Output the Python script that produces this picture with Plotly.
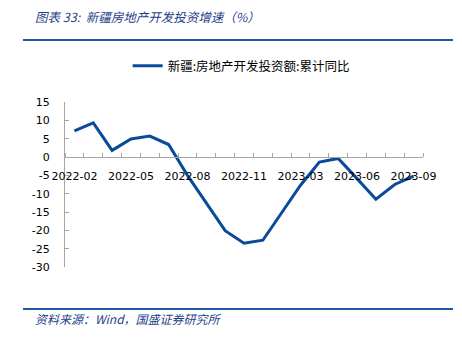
import plotly.graph_objects as go

months = ["2022-02", "2022-03", "2022-04", "2022-05", "2022-06", "2022-07", "2022-08",
          "2022-09", "2022-10", "2022-11", "2022-12", "2023-02", "2023-03", "2023-04",
          "2023-05", "2023-06", "2023-07", "2023-08", "2023-09"]
values = [7.1, 9.3, 1.8, 4.9, 5.7, 3.4, -5.0, -12.6, -20.1, -23.5, -22.7, -15.2, -7.7,
          -1.4, -0.4, -5.9, -11.5, -7.5, -5.2]
y_ticks = [15, 10, 5, 0, -5, -10, -15, -20, -25, -30]
series_name = "新疆:房地产开发投资额:累计同比"
title_text = "图表 33:  新疆房地产开发投资增速（%）"
source_text = "资料来源：Wind，国盛证券研究所"
y_range = [-30, 15]

xs = list(range(len(months)))
label_idx = xs[::3]

# page body has an 8px default margin; target pixel positions are compensated
OFF = 8
W, H = 462, 358
PL, PR, PT, PB = 65 - OFF, 423 - OFF, 102 - OFF, 267 - OFF  # plot area in figure px
PW, PH = PR - PL, PB - PT


def px_x(x):
    return (x - OFF - PL) / PW


def px_y(y):
    return (PB - (y - OFF)) / PH


fig = go.Figure()
fig.add_trace(go.Scatter(x=xs, y=values, mode="lines", name=series_name,
                         line=dict(color="#0B4A9B", width=3)))

axis_grey = "#A6A6A6"
fig.update_layout(
    width=W, height=H,
    margin=dict(l=PL, r=W - PR, t=PT, b=H - PB, autoexpand=False),
    paper_bgcolor="white", plot_bgcolor="white",
    font=dict(family="DejaVu Sans", size=11, color="#000000"),
    showlegend=True,
    legend=dict(orientation="h", x=px_x(133) - 0.015, xanchor="left", y=px_y(66),
                yanchor="middle",
                font=dict(family="Noto Sans CJK SC", size=12.5, color="#000000"),
                itemwidth=30, bgcolor="rgba(0,0,0,0)"),
    xaxis=dict(range=[-0.5, len(months) - 0.5], tickvals=label_idx,
               ticktext=[months[i] for i in label_idx], ticks="",
               showline=True, linecolor=axis_grey, linewidth=1, showgrid=False,
               zeroline=False, anchor="free",
               position=(0 - y_range[0]) / (y_range[1] - y_range[0]),
               ticklabelstandoff=9,
               minor=dict(ticks="inside", ticklen=4, tickcolor=axis_grey, dtick=1,
                          tick0=-0.5, showgrid=False),
               tickfont=dict(family="DejaVu Sans", size=11, color="#000000")),
    yaxis=dict(range=y_range, tickvals=y_ticks, ticktext=[str(v) for v in y_ticks],
               ticks="inside", ticklen=4,
               tickcolor=axis_grey, showline=True, linecolor=axis_grey, linewidth=1,
               showgrid=False, zeroline=False, ticklabelstandoff=12,
               tickfont=dict(family="DejaVu Sans", size=11, color="#000000")),
)

fig.add_annotation(xref="paper", yref="paper", x=px_x(33), y=px_y(16),
                   xanchor="left", yanchor="middle", showarrow=False, text=title_text,
                   font=dict(family="Noto Sans CJK SC", size=12.5, color="#1F3F8A",
                             style="italic"))
fig.add_annotation(xref="paper", yref="paper", x=px_x(33), y=px_y(318),
                   xanchor="left", yanchor="middle", showarrow=False, text=source_text,
                   font=dict(family="Noto Sans CJK SC", size=12, color="#1F3F8A",
                             style="italic"))
for yy in (40, 309):
    fig.add_shape(type="line", xref="paper", yref="paper",
                  x0=px_x(23), x1=px_x(453), y0=px_y(yy), y1=px_y(yy),
                  line=dict(color="#1F58A8", width=2))

fig.write_html("out.html")
